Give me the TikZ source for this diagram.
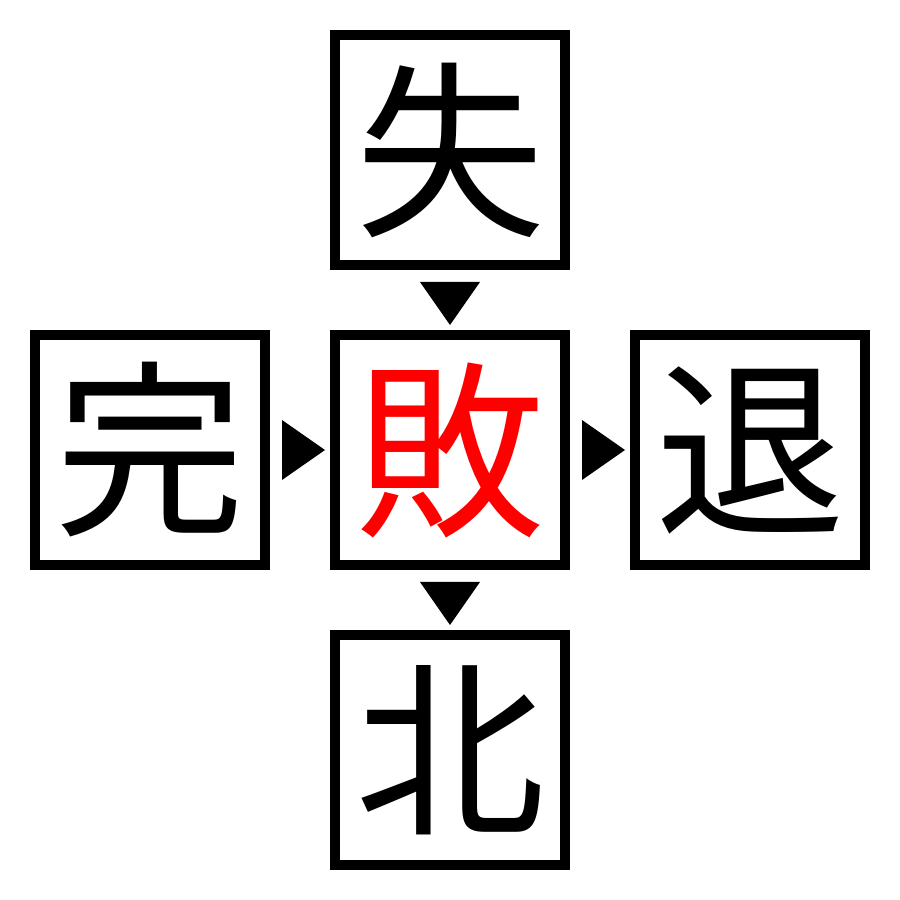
\documentclass[tikz,border=0pt]{standalone}
\usepackage{fontspec}
\newfontfamily\cjk{Noto Sans CJK JP}
\usetikzlibrary{positioning,calc}
\begin{document}
\begin{tikzpicture}
    \tikzset{
        kanji/.style={draw,line width=1mm,minimum size=2.3cm,inner sep=0pt,outer sep=0pt,
            font=\cjk\fontsize{54}{54}\selectfont},}
    \useasboundingbox (0,0) rectangle (9,9);
    \node[kanji,text=red] (bai) at (4.5,4.5) {敗};
    \node[kanji,above=0.7cm of bai] (shitsu) {失};
    \node[kanji,left=0.7cm of bai] (kan) {完};
    \node[kanji,right=0.7cm of bai] (tai) {退};
    \node[kanji,below=0.7cm of bai] (boku) {北};
    % down markers
    \foreach \a in {shitsu,bai}
        \fill ($(\a.south)+(-0.3,-0.17)$) -- ($(\a.south)+(0.3,-0.17)$) -- ($(\a.south)+(0,-0.6)$) -- cycle;
    % right markers
    \foreach \a in {kan,bai}
        \fill ($(\a.east)+(0.17,0.3)$) -- ($(\a.east)+(0.17,-0.3)$) -- ($(\a.east)+(0.6,0)$) -- cycle;
\end{tikzpicture}
\end{document}
